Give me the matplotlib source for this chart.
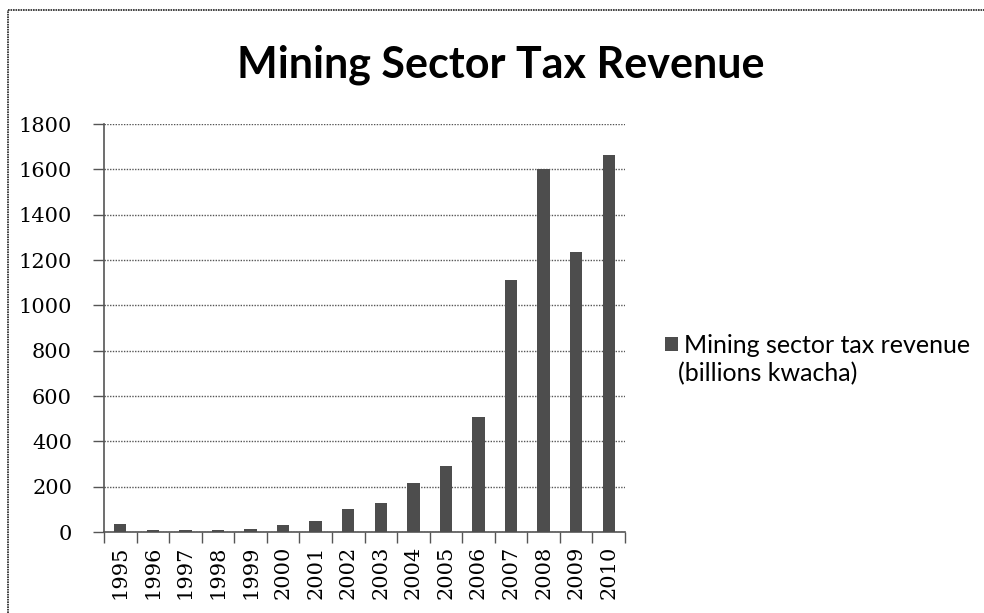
import matplotlib

matplotlib.use("Agg")

import matplotlib.pyplot as plt  # noqa: E402
from matplotlib.lines import Line2D  # noqa: E402
import numpy as np  # noqa: E402

# values (billions kwacha)
years = ["1995", "1996", "1997", "1998", "1999", "2000", "2001", "2002",
         "2003", "2004", "2005", "2006", "2007", "2008", "2009", "2010"]
revenue = [35, 10, 8, 8, 15, 30, 48, 100, 128, 218, 292, 507, 1111, 1603, 1236, 1662]
y_ticks = [0, 200, 400, 600, 800, 1000, 1200, 1400, 1600, 1800]

title = "Mining Sector Tax Revenue"
legend_line1 = "Mining sector tax revenue"
legend_line2 = "(billions kwacha)"

BAR = "#4d4d4d"
GRID = "#555555"
SERIF = ["DejaVu Serif"]
SANS = ["Lato", "DejaVu Sans"]

fig = plt.figure(figsize=(9.84, 6.13), dpi=100)
ax = fig.add_axes([0.1057, 0.1321, 0.5295, 0.6656])

x = np.arange(len(years))
bars = ax.bar(x, revenue, width=0.38, color=BAR, zorder=3)

ax.set_xlim(-0.5, len(years) - 0.5)
ax.set_ylim(0, 1800)
ax.set_yticks(y_ticks)
ax.set_yticklabels([str(t) for t in y_ticks], family=SERIF, fontsize=15)
ax.set_xticks(x)
ax.set_xticklabels(years, rotation=90, family=SERIF, fontsize=15)
ax.set_xticks(np.arange(-0.5, len(years)), minor=True)
ax.tick_params(axis="x", which="major", length=0, pad=10)
ax.tick_params(axis="x", which="minor", length=8, color=GRID, width=1)
ax.tick_params(axis="y", length=8, color=GRID, width=1, pad=15)

ax.yaxis.grid(True, linestyle=(0, (1, 1)), color=GRID, linewidth=1, zorder=0)
for side in ("top", "right"):
    ax.spines[side].set_visible(False)
for side in ("left", "bottom"):
    ax.spines[side].set_color(GRID)
    ax.spines[side].set_linewidth(1.2)

fig.text(0.509, 0.895, title, ha="center", va="center",
         family=SANS, fontweight="bold", fontsize=31)

leg = ax.legend([bars], [legend_line1], loc="center left",
                bbox_to_anchor=(0.676, 0.437), bbox_transform=fig.transFigure,
                frameon=False, handlelength=0.5, handleheight=0.5,
                handletextpad=0.25, borderaxespad=0, borderpad=0,
                prop={"family": SANS, "size": 18})
fig.text(0.689, 0.391, legend_line2, ha="left", va="center",
         family=SANS, fontsize=18)

# chart frame: top and left edges only, as in the scan
fig.add_artist(Line2D([0.008, 1.0], [0.984, 0.984], color="#222222",
                      linewidth=1.2, linestyle=(0, (1, 0.5)),
                      transform=fig.transFigure))
fig.add_artist(Line2D([0.008, 0.008], [0.0, 0.984], color="#222222",
                      linewidth=1.2, linestyle=(0, (1, 0.5)),
                      transform=fig.transFigure))

fig.savefig("out.png", dpi=100)
